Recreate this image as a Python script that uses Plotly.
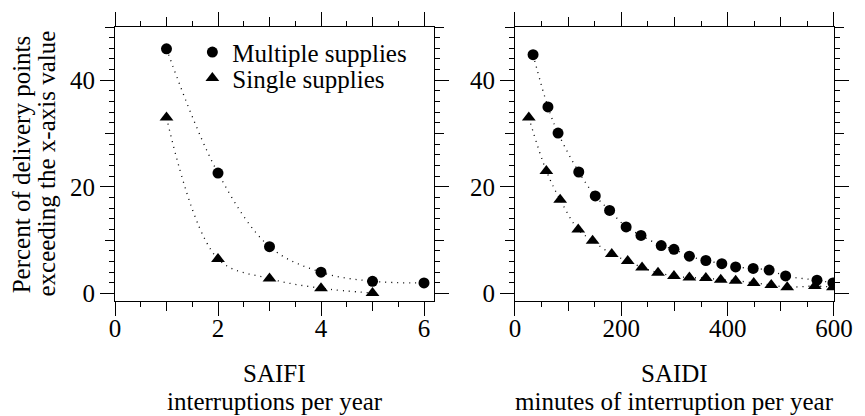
import plotly.graph_objects as go

# ---------------- data ----------------
saifi_x_multi = [1, 2, 3, 4, 5, 6]
saifi_y_multi = [45.9, 22.6, 8.8, 4.0, 2.3, 2.0]
saifi_x_single = [1, 2, 3, 4, 5]
saifi_y_single = [33.0, 6.5, 2.8, 1.0, 0.1]

saidi_x_multi = [34, 62, 81, 120, 151, 178, 209, 237, 275, 299, 328, 359, 389, 415, 448, 478, 509, 568, 598]
saidi_y_multi = [44.8, 35.0, 30.1, 22.8, 18.3, 15.6, 12.5, 10.9, 9.0, 8.3, 7.0, 6.2, 5.6, 5.0, 4.7, 4.4, 3.3, 2.5, 2.0]
saidi_x_single = [26, 59, 85, 119, 146, 182, 212, 239, 269, 299, 328, 359, 387, 415, 449, 482, 512, 564, 598]
saidi_y_single = [33.0, 23.0, 17.6, 12.0, 9.9, 7.4, 6.1, 4.9, 3.9, 3.3, 3.0, 2.9, 2.6, 2.4, 2.0, 1.6, 1.2, 1.4, 1.2]

series_names = ["Multiple supplies", "Single supplies"]
y_title_lines = ["Percent of delivery points", "exceeding the x-axis value"]
x_titles = [("SAIFI", "interruptions per year"), ("SAIDI", "minutes of interruption per year")]

FONT = "Liberation Serif"
FS = 25

fig = go.Figure()


def add_series(x, y, xa, ya, symbol, size, name, showlegend, legend):
    fig.add_trace(go.Scatter(
        x=x, y=y, xaxis=xa, yaxis=ya, mode="lines",
        line=dict(shape="spline", smoothing=1, color="black", width=1.3, dash="1px,5px"),
        showlegend=False, hoverinfo="skip"))
    fig.add_trace(go.Scatter(
        x=x, y=y, xaxis=xa, yaxis=ya, mode="markers",
        marker=dict(symbol=symbol, size=size, color="black", line=dict(width=0)),
        name=name, showlegend=showlegend, legend=legend))


add_series(saifi_x_multi, saifi_y_multi, "x", "y", "circle", 11, series_names[0], True, "legend")
add_series(saifi_x_single, saifi_y_single, "x", "y", "triangle-up", 12, series_names[1], True, "legend2")
add_series(saidi_x_multi, saidi_y_multi, "x2", "y2", "circle", 11, series_names[0], False, "legend")
add_series(saidi_x_single, saidi_y_single, "x2", "y2", "triangle-up", 12, series_names[1], False, "legend2")

# invisible traces so the overlaid (minor-tick) axes are surely drawn
for xa, ya, xs, ys in [("x3", "y3", saifi_x_multi, saifi_y_multi),
                       ("x4", "y4", saidi_x_multi, saidi_y_multi)]:
    fig.add_trace(go.Scatter(x=xs, y=ys, xaxis=xa, yaxis=ya, mode="markers",
                             marker=dict(opacity=0, size=1), showlegend=False,
                             hoverinfo="skip"))

YR = [-1.4, 50]
XR1 = [0, 6.2]
XR2 = [0, 600]

main = dict(showline=True, linecolor="black", linewidth=1, mirror="ticks",
            ticks="outside", ticklen=14, tickwidth=1, tickcolor="black",
            showgrid=False, zeroline=False, fixedrange=True,
            tickfont=dict(family=FONT, size=FS, color="black"))
small = dict(showline=False, mirror="ticks", ticks="outside", ticklen=5, tickwidth=1,
             tickcolor="black", showgrid=False, zeroline=False, showticklabels=False,
             fixedrange=True)


def minor(d):
    return dict(dtick=d, tick0=0, ticks="outside", ticklen=9, tickwidth=1,
                tickcolor="black", showgrid=False)


D1 = [0, 0.4441]
D2 = [0.5563, 1]

fig.update_layout(
    xaxis=dict(main, domain=D1, range=XR1, dtick=2, tick0=0, anchor="y", minor=minor(1),
               ticklabelstandoff=-9),
    yaxis=dict(main, domain=[0, 1], range=YR, dtick=20, tick0=0, anchor="x", minor=minor(10)),
    xaxis2=dict(main, domain=D2, range=XR2, dtick=200, tick0=0, anchor="y2", minor=minor(100),
                ticklabelstandoff=-9),
    yaxis2=dict(main, domain=[0, 1], range=YR, dtick=20, tick0=0, anchor="x2", minor=minor(10)),
    xaxis3=dict(small, overlaying="x", anchor="y", range=XR1, dtick=0.5, tick0=0),
    yaxis3=dict(small, overlaying="y", anchor="x", range=YR, dtick=2, tick0=0),
    xaxis4=dict(small, overlaying="x2", anchor="y2", range=XR2, dtick=50, tick0=0),
    yaxis4=dict(small, overlaying="y2", anchor="x2", range=YR, dtick=2, tick0=0),
)

leg = dict(font=dict(family=FONT, size=FS, color="black"), bgcolor="rgba(0,0,0,0)",
           xanchor="left", yanchor="middle", borderwidth=0)
fig.update_layout(
    legend=dict(leg, x=0.1076, y=0.9076),
    legend2=dict(leg, x=0.1076, y=0.8130),
)

ann = []
for i, (t1, t2) in enumerate(x_titles):
    ref = "x domain" if i == 0 else "x2 domain"
    ann.append(dict(text=t1, xref=ref, x=0.5, yref="paper", y=-0.2651,
                    xanchor="center", yanchor="middle", showarrow=False,
                    font=dict(family=FONT, size=FS, color="black")))
    ann.append(dict(text=t2, xref=ref, x=0.5, yref="paper", y=-0.3669,
                    xanchor="center", yanchor="middle", showarrow=False,
                    font=dict(family=FONT, size=FS, color="black")))
for xp, t in zip([-0.1303, -0.0966], y_title_lines):
    ann.append(dict(text=t, xref="paper", x=xp, yref="paper", y=0.5,
                    xanchor="center", yanchor="middle", textangle=-90, showarrow=False,
                    font=dict(family=FONT, size=FS, color="black")))

fig.update_layout(
    annotations=ann,
    width=865, height=416,
    margin=dict(l=115, r=25, t=23, b=115),
    paper_bgcolor="white", plot_bgcolor="white",
    showlegend=True,
)

fig.write_html("out.html", config={"displayModeBar": False, "staticPlot": True},
               post_script="document.body.style.margin='0px';")
